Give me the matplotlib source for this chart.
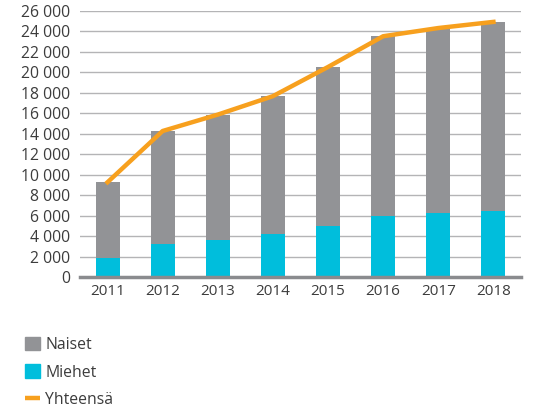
import numpy as np
import matplotlib
matplotlib.use("Agg")
import matplotlib.pyplot as plt
from matplotlib.patches import Patch
from matplotlib.lines import Line2D
from matplotlib.ticker import FuncFormatter

plt.rcParams["font.family"] = ["Open Sans", "DejaVu Sans"]

years = ["2011", "2012", "2013", "2014", "2015", "2016", "2017", "2018"]
miehet = [1900, 3200, 3600, 4200, 5000, 6000, 6200, 6400]
yhteensa = [9250, 14250, 15850, 17650, 20500, 23500, 24300, 24900]
naiset = [t - m for t, m in zip(yhteensa, miehet)]

GRAY = "#929396"
CYAN = "#00bedc"
ORANGE = "#f7a01e"
TXT = "#3c3c3c"

fig = plt.figure(figsize=(5.33, 4.13), dpi=100)
ax = fig.add_axes([0.150, 0.3293, 0.8275, 0.645])
x = np.arange(len(years))
w = 0.435

ax.bar(x, miehet, w, color=CYAN, zorder=3)
ax.bar(x, naiset, w, bottom=miehet, color=GRAY, zorder=3)
ax.plot(x, yhteensa, color=ORANGE, lw=3.2, zorder=4, solid_joinstyle="round")

ax.set_xlim(-0.5, 7.5)
ax.set_ylim(0, 26000)
ax.set_yticks(range(0, 26001, 2000))
ax.yaxis.set_major_formatter(FuncFormatter(lambda v, p: f"{int(v):,}".replace(",", " ")))
ax.set_xticks(x)
ax.set_xticklabels(years)
ax.tick_params(axis="y", length=0, labelsize=11.3, colors=TXT, pad=7)
ax.tick_params(axis="x", length=0, labelsize=11, colors=TXT, pad=5)
ax.grid(axis="y", color="#b4b4b6", lw=1.0, zorder=0)
for s in ["top", "right", "left"]:
    ax.spines[s].set_visible(False)
ax.spines["bottom"].set_color("#8a8b8e")
ax.spines["bottom"].set_linewidth(2.5)
ax.spines["bottom"].set_zorder(5)

handles = [Patch(color=GRAY, label="Naiset"),
           Patch(color=CYAN, label="Miehet"),
           Line2D([0], [0], color=ORANGE, lw=3.2, solid_capstyle="butt", label="Yhteensä")]
leg = fig.legend(handles=handles, loc="upper left", bbox_to_anchor=(0.036, 0.2),
                 frameon=False, fontsize=11.3, handlelength=0.95, handleheight=0.95,
                 handletextpad=0.3, labelspacing=0.74, borderaxespad=0)
for t in leg.get_texts():
    t.set_color(TXT)

fig.savefig("out.png", dpi=100)
